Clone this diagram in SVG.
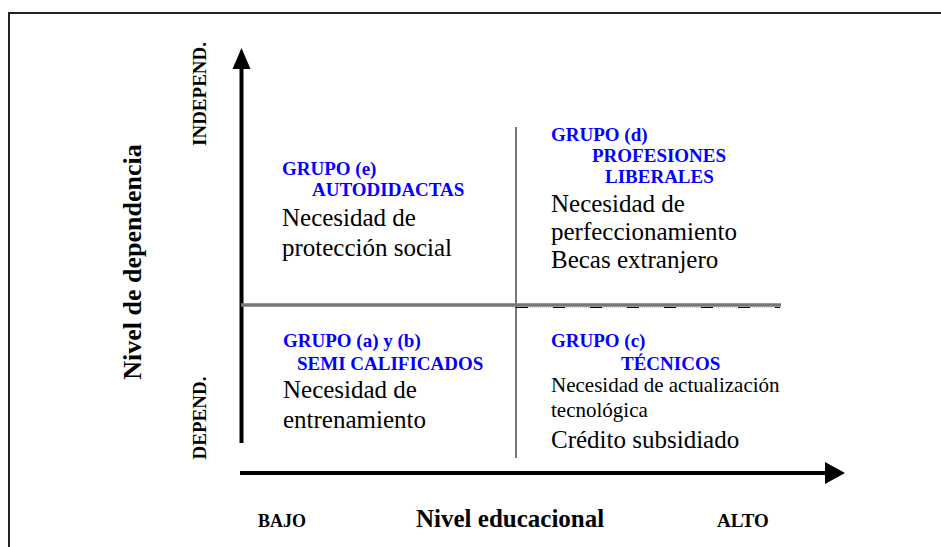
<svg xmlns="http://www.w3.org/2000/svg" width="941" height="547" viewBox="0 0 941 547">
<style>
.ax{stroke:#000;stroke-width:4;fill:none}
.div{stroke:#777;fill:none}
.lab{font-family:"Liberation Serif",serif;font-weight:bold;fill:#000}
.grp{font-family:"Liberation Serif",serif;font-weight:bold;font-size:19px;fill:#0000ff}
.body{font-family:"Liberation Serif",serif;font-size:25px;fill:#000}
.small{font-family:"Liberation Serif",serif;font-size:21px;fill:#000}
</style>
<rect width="941" height="547" fill="#fff"/>
<g id="frame">
<path d="M9,547 V13 H941" stroke="#222" stroke-width="2" fill="none"/>
</g>
<g id="connectors">
<line class="ax" x1="241.5" y1="443" x2="241.5" y2="66"/>
<polygon points="241.5,48 232.5,69 250.5,69" fill="#000"/>
<line class="ax" x1="240" y1="473" x2="828" y2="473"/>
<polygon points="845,473 825,462 825,484" fill="#000"/>
<line class="div" stroke-width="3.4" x1="241" y1="305" x2="781" y2="305"/>
<line class="div" stroke-width="2" x1="516" y1="127" x2="516" y2="458"/>
<line x1="512" y1="307.5" x2="780" y2="307.5" stroke="#ccc" stroke-width="1" stroke-dasharray="1 1"/>
<line x1="516" y1="307.5" x2="780" y2="307.5" stroke="#000" stroke-width="1" stroke-dasharray="12 25"/>
</g>
<g id="axis-y-labels">
<text class="lab" font-size="19" text-anchor="middle" transform="translate(205.5,94) rotate(-90)">INDEPEND.</text>
<text class="lab" font-size="19" text-anchor="middle" transform="translate(205.5,418) rotate(-90)">DEPEND.</text>
<text class="lab" font-size="26" text-anchor="middle" transform="translate(141,262) rotate(-90)">Nivel de dependencia</text>
</g>
<g id="axis-x-labels">
<text class="lab" font-size="18" x="258" y="527">BAJO</text>
<text class="lab" font-size="25" x="416" y="527">Nivel educacional</text>
<text class="lab" font-size="19" x="717" y="527">ALTO</text>
</g>
<g id="group-e">
<text class="grp" x="282" y="175">GRUPO (e)</text>
<text class="grp" x="312" y="196">AUTODIDACTAS</text>
<text class="body" x="282" y="226">Necesidad de</text>
<text class="body" x="282" y="256">protección social</text>
</g>
<g id="group-d">
<text class="grp" x="551" y="141">GRUPO (d)</text>
<text class="grp" x="592" y="162">PROFESIONES</text>
<text class="grp" x="605" y="183">LIBERALES</text>
<text class="body" x="551" y="212">Necesidad de</text>
<text class="body" x="551" y="240">perfeccionamiento</text>
<text class="body" x="551" y="268">Becas extranjero</text>
</g>
<g id="group-ab">
<text class="grp" x="283" y="347">GRUPO (a) y (b)</text>
<text class="grp" x="297" y="370">SEMI CALIFICADOS</text>
<text class="body" x="283" y="398">Necesidad de</text>
<text class="body" x="283" y="428">entrenamiento</text>
</g>
<g id="group-c">
<text class="grp" x="551" y="347">GRUPO (c)</text>
<text class="grp" x="621" y="370">TÉCNICOS</text>
<text class="small" x="551" y="392">Necesidad de actualización</text>
<text class="small" x="551" y="417">tecnológica</text>
<text class="body" x="551" y="448">Crédito subsidiado</text>
</g>
</svg>
